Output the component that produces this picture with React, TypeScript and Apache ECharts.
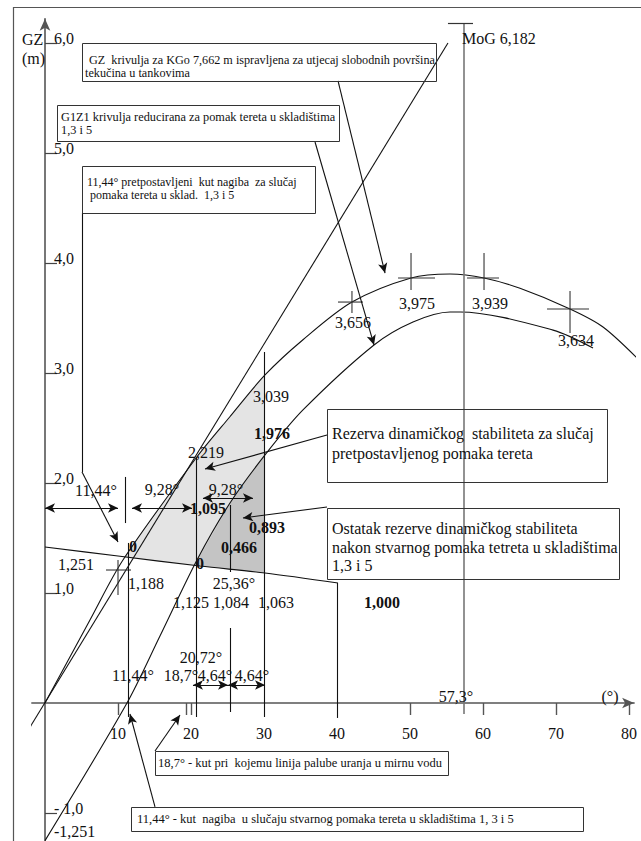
import React, { useEffect, useRef } from "react";
import * as echarts from "echarts";

const FONT = '"Liberation Serif", "Times New Roman", "DejaVu Serif", serif';

// ---------- axis ticks ----------
const X_LABEL_VALUES = [10, 20, 30, 40, 50, 60, 70, 80];
const X_TICK_VALUES = [10, 19.4, 20, 50, 60, 70, 80];
const Y_LABEL_VALUES = [-1.251, -1, 1, 2, 3, 4, 5, 6];
const Y_LABEL_TEXT = ["-1,251", "- 1,0", "1,0", "2,0", "3,0", "4,0", "5,0", "6,0"];
const Y_TICK_VALUES = [-1, 1, 2, 3, 4, 5, 6];

// ---------- curves (heel angle in degrees, lever in m) ----------
const GZ_DEG = [0, 6.16, 10.68, 20.7, 25.3, 30.14, 35.3, 42.05, 50.14, 55.48, 60.14, 65.07, 71.92, 76.44, 81.64];
const GZ_M = [0, 0.755, 1.3, 2.227, 2.6, 2.982, 3.3, 3.645, 3.864, 3.9, 3.864, 3.77, 3.582, 3.418, 3.1];

const G1Z1_DEG = [0, 11.23, 15.75, 20.82, 25.34, 30.14, 35.34, 45.07, 50.41, 55.48, 56.85, 69.6, 75.07];
const G1Z1_M = [-1.251, 0, 0.609, 1.3, 1.818, 2.255, 2.664, 3.255, 3.464, 3.555, 3.555, 3.39, 3.227];

const HEEL_DEG = [0, 10.0, 21.23, 30.14, 40.14];
const HEEL_M = [1.418, 1.336, 1.245, 1.182, 1.091];

const TANGENT_DEG = [-5.1, 55.2];
const TANGENT_M = [-0.55, 6.0];

// ---------- shaded areas ----------
const LIGHT_REGION = [[10.98, 1.328], [20.7, 2.227], [25.3, 2.6], [30.14, 2.982], [30.14, 1.182], [21.23, 1.245]];
const DARK_REGION = [[20.48, 1.25], [25.34, 1.818], [30.14, 2.255], [30.14, 1.182], [25.34, 1.216]];

// ---------- reference lines [deg, from m, to m] ----------
const VERTICAL_LINES = [
  [11.44, 1.455, -0.127],
  [10.96, 2.055, 1.636],
  [20.72, 2.227, -0.127],
  [25.36, 1.8, 1.191],
  [25.36, 0.682, -0.082],
  [30, 3.191, -0.127],
  [40, 1.091, -0.136],
];
const MOG_DEG = 57.3;
const MOG_M = 6.182;
const MOG_BOTTOM = -0.1;
const MOG_CAP = [55.2, 58.63];

// ---------- dimension arrows [from deg, to deg, at m] ----------
const DOUBLE_ARROWS = [
  [0, 10.0, 1.773],
  [11.92, 20.14, 1.773],
  [21.64, 28.49, 1.864],
  [20.27, 25.07, 0.164],
  [25.07, 30.14, 0.164],
];

// ---------- callout leader lines (deg, m) ----------
const CALLOUTS = [
  [[40.14, 5.655], [46.58, 3.909]],
  [[36.99, 5.1], [45.07, 3.255]],
  [[5.07, 4.455], [5.07, 2.1], [10.0, 1.464]],
  [[38.63, 2.436], [21.92, 2.127]],
  [[38.63, 1.782], [27.12, 1.682]],
  [[15.07, -0.436], [18.49, -0.109]],
  [[15.07, -0.945], [11.64, -0.1]],
];

// ---------- cross markers ----------
const CROSS_POINTS = [[10.0, 1.209], [42.05, 3.645], [50.14, 3.864], [60.14, 3.864], [71.92, 3.582]];
const CROSS_ARMS = [[12, 13, 10, 25], [14, 11, 11, 11], [13, 24, 25, 12], [17, 15, 25, 12], [23, 19, 18, 24]];

const zip = (a: number[], b: number[]) => a.map((v, i) => [v, b[i]]);

// grid geometry (px per unit)
const KX = 7.3;
const KY = 110;
const X_MIN = -1.8;
const X_MAX = 80.7;
const Y_MIN = -1.251;
const Y_MAX = 6.22;
const ORIGIN_X = 45;
const ORIGIN_Y = 703;
const W = 641;
const H = 841;

const txt = (text: string, x: number, y: number, opts: any = {}) => ({
  type: "text",
  x,
  y,
  z: 100,
  silent: true,
  style: {
    text,
    fill: "#111",
    font: `${opts.bold ? "bold " : ""}${opts.size || 16}px ${FONT}`,
    align: opts.align || "center",
    textAlign: opts.align || "center",
    verticalAlign: "middle",
    textVerticalAlign: "middle",
  },
});

const box = (x: number, y: number, w: number, h: number) => ({
  type: "rect",
  z: 90,
  silent: true,
  shape: { x: x + 0.5, y: y + 0.5, width: w, height: h },
  style: { fill: "none", stroke: "#333", lineWidth: 1 },
});

export default function App() {
  const ref = useRef<HTMLDivElement>(null);

  useEffect(() => {
    if (!ref.current) return;
    const chart = echarts.init(ref.current, undefined, { renderer: "svg" });

    const seg = (a: number[], b: number[], s0 = "none", s1 = "none", ls: any = undefined) => [
      { coord: a, symbol: s0, lineStyle: ls },
      { coord: b, symbol: s1, lineStyle: ls },
    ];

    const markData: any[] = [];
    VERTICAL_LINES.forEach(([d, a, b]) => markData.push(seg([d, a], [d, b])));
    const grayStyle = { color: "#777", width: 1.6, type: "solid" };
    markData.push(seg([MOG_DEG, MOG_M], [MOG_DEG, MOG_BOTTOM], "none", "none", grayStyle));
    markData.push(seg([MOG_CAP[0], MOG_M], [MOG_CAP[1], MOG_M], "none", "none", { color: "#333", width: 1.2, type: "solid" }));
    DOUBLE_ARROWS.forEach(([a, b, m]) => markData.push(seg([a, m], [b, m], "arrow", "arrow")));
    CALLOUTS.forEach((pts) => {
      for (let i = 0; i < pts.length - 1; i++) {
        markData.push(seg(pts[i], pts[i + 1], "none", i === pts.length - 2 ? "arrow" : "none"));
      }
    });

    const lineSeries = (data: number[][], smooth: number | boolean, extra: any = {}) => ({
      type: "line",
      data,
      smooth,
      symbol: "none",
      clip: false,
      silent: true,
      z: 3,
      lineStyle: { color: "#111", width: 1.1 },
      ...extra,
    });

    const gridLeft = ORIGIN_X + X_MIN * KX;
    const gridBottomPx = ORIGIN_Y - Y_MIN * KY;

    const option: any = {
      animation: false,
      grid: {
        left: gridLeft,
        right: W - (ORIGIN_X + X_MAX * KX),
        top: ORIGIN_Y - Y_MAX * KY,
        bottom: H - gridBottomPx,
        containLabel: false,
        outerBoundsMode: "none",
      },
      xAxis: {
        type: "value",
        min: X_MIN,
        max: X_MAX,
        position: "bottom",
        offset: -(gridBottomPx - ORIGIN_Y),
        axisLine: {
          show: true,
          onZero: false,
          symbol: ["none", "arrow"],
          symbolSize: [8, 12],
          lineStyle: { color: "#555", width: 1.6 },
        },
        axisTick: { show: true, customValues: X_TICK_VALUES, length: 12, inside: false, lineStyle: { color: "#555", width: 1.4 } },
        axisLabel: {
          show: true,
          customValues: X_LABEL_VALUES,
          margin: 22,
          color: "#111",
          fontFamily: FONT,
          fontSize: 16,
          formatter: (v: number) => String(v),
        },
        splitLine: { show: false },
      },
      yAxis: {
        type: "value",
        min: Y_MIN,
        max: Y_MAX,
        position: "left",
        offset: -(ORIGIN_X - gridLeft),
        axisLine: {
          show: true,
          onZero: false,
          symbol: ["none", "arrow"],
          symbolSize: [8, 12],
          lineStyle: { color: "#555", width: 1.6 },
        },
        axisTick: { show: true, customValues: Y_TICK_VALUES, length: 12, inside: true, lineStyle: { color: "#444", width: 1.2 } },
        axisLabel: {
          show: true,
          inside: true,
          customValues: Y_LABEL_VALUES,
          margin: 9,
          color: "#111",
          fontFamily: FONT,
          fontSize: 16,
          align: "left",
          verticalAlign: "middle",
          padding: [0, 0, 9, 0],
          formatter: (v: number) => {
            const i = Y_LABEL_VALUES.findIndex((u) => Math.abs(u - v) < 1e-6);
            if (i < 0) return "";
            return i === 0 ? `{low|${Y_LABEL_TEXT[i]}}` : Y_LABEL_TEXT[i];
          },
          rich: {
            low: { fontFamily: FONT, fontSize: 16, color: "#111", padding: [0, 0, 10, 0] },
          },
        },
        splitLine: { show: false },
      },
      series: [
        {
          type: "custom",
          z: 1,
          silent: true,
          clip: false,
          data: [[0, 0]],
          renderItem: (_p: any, api: any) => ({
            type: "group",
            children: [
              {
                type: "polygon",
                shape: { points: LIGHT_REGION.map((p) => api.coord(p)) },
                style: { fill: "#e4e4e4", stroke: "none" },
              },
              {
                type: "polygon",
                shape: { points: DARK_REGION.map((p) => api.coord(p)) },
                style: { fill: "#c4c4c4", stroke: "none" },
              },
            ],
          }),
        },
        lineSeries(zip(GZ_DEG, GZ_M), 0.3),
        lineSeries(zip(G1Z1_DEG, G1Z1_M), 0.3),
        lineSeries(zip(HEEL_DEG, HEEL_M), 0.3),
        lineSeries(zip(TANGENT_DEG, TANGENT_M), false, {
          markLine: {
            silent: true,
            animation: false,
            symbol: ["none", "none"],
            symbolSize: [7, 10],
            label: { show: false },
            emphasis: { disabled: true },
            lineStyle: { color: "#111", width: 1.1, type: "solid" },
            data: markData,
          },
        }),
        {
          type: "custom",
          z: 4,
          silent: true,
          clip: false,
          data: CROSS_POINTS,
          renderItem: (params: any, api: any) => {
            const c = api.coord([api.value(0), api.value(1)]);
            const a = CROSS_ARMS[params.dataIndex];
            const st = { stroke: "#333", lineWidth: 1.1 };
            return {
              type: "group",
              children: [
                { type: "line", shape: { x1: c[0] - a[0], y1: c[1], x2: c[0] + a[1], y2: c[1] }, style: st },
                { type: "line", shape: { x1: c[0], y1: c[1] - a[2], x2: c[0], y2: c[1] + a[3] }, style: st },
              ],
            };
          },
        },
      ],
      graphic: [
        { type: "line", z: 80, silent: true, shape: { x1: 13, y1: 7.5, x2: 641, y2: 7.5 }, style: { stroke: "#555", lineWidth: 1.2 } },
        { type: "line", z: 80, silent: true, shape: { x1: 13.5, y1: 7, x2: 13.5, y2: 841 }, style: { stroke: "#555", lineWidth: 1.2 } },
        txt("GZ", 22, 39, { align: "left" }),
        txt("(m)", 22, 58, { align: "left" }),
        txt("MoG 6,182", 462, 38, { align: "left" }),

        box(82, 43, 354, 38),
        txt("GZ  krivulja za KGo 7,662 m ispravljena za utjecaj slobodnih površina", 89, 60, { size: 12.2, align: "left" }),
        txt("tekučina u tankovima", 85, 73, { size: 12.2, align: "left" }),

        box(57, 105, 282, 36),
        txt("G1Z1 krivulja reducirana za pomak tereta u skladištima", 61, 117, { size: 12.3, align: "left" }),
        txt("1,3 i 5", 61, 130, { size: 12.3, align: "left" }),

        box(82, 166, 233, 47),
        txt("11,44° pretpostavljeni  kut nagiba  za slučaj", 87, 182, { size: 12, align: "left" }),
        txt("pomaka tereta u sklad.  1,3 i 5", 90, 195, { size: 12, align: "left" }),

        box(327, 409, 280, 73),
        txt("Rezerva dinamičkog  stabiliteta za slučaj", 332, 433, { size: 16, align: "left" }),
        txt("pretpostavljenog pomaka tereta", 332, 453, { size: 16, align: "left" }),

        box(327, 508, 292, 71),
        txt("Ostatak rezerve dinamičkog stabiliteta", 332, 528, { size: 16, align: "left" }),
        txt("nakon stvarnog pomaka tetreta u skladištima", 332, 547, { size: 16, align: "left" }),
        txt("1,3 i 5", 332, 565, { size: 16, align: "left" }),

        box(155, 751, 293, 24),
        txt("18,7° - kut pri  kojemu linija palube uranja u mirnu vodu", 158, 763, { size: 12.5, align: "left" }),

        box(131, 807, 452, 24),
        txt("11,44° - kut  nagiba  u slučaju stvarnog pomaka tereta u skladištima 1, 3 i 5", 137, 819, { size: 12.5, align: "left" }),

        txt("3,656", 353, 322),
        txt("3,975", 417, 303),
        txt("3,939", 490, 303),
        txt("3,634", 576, 340),
        txt("3,039", 271, 396),
        txt("1,976", 272, 433, { bold: true }),
        txt("2,219", 206, 452),
        txt("11,44°", 96, 490),
        txt("9,28°", 162, 489),
        txt("9,28°", 226, 489),
        txt("1,095", 208, 508, { bold: true }),
        txt("0,893", 267, 527, { bold: true }),
        txt("0,466", 239, 547, { bold: true }),
        txt("0", 133, 546, { bold: true }),
        txt("0", 200, 563, { bold: true }),
        txt("1,251", 76, 564),
        txt("1,188", 146, 583),
        txt("25,36°", 234, 583),
        txt("1,125", 191, 602),
        txt("1,084", 231, 602),
        txt("1,063", 276, 602),
        txt("1,000", 382, 602, { bold: true }),
        txt("20,72°", 201, 657),
        txt("11,44°", 133, 675),
        txt("18,7°", 181, 675),
        txt("4,64°", 215, 675),
        txt("4,64°", 252, 675),
        txt("57,3°", 456, 696),
        txt("(°)", 610, 696),
      ],
    };

    chart.setOption(option);
    return () => chart.dispose();
  }, []);

  return (
    <div
      ref={ref}
      style={{ position: "absolute", left: 0, top: 0, width: W, height: H, background: "#fff" }}
    />
  );
}
